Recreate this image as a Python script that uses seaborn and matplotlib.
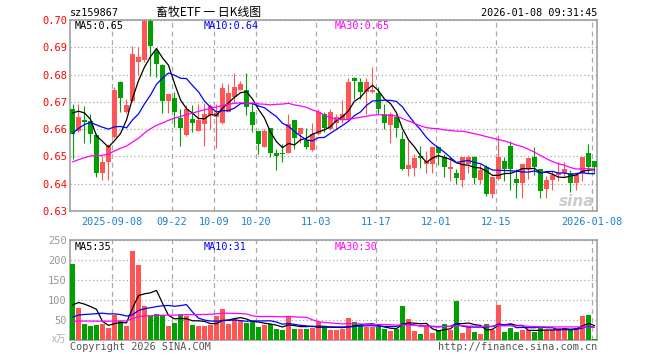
import numpy as np
import pandas as pd
import matplotlib
matplotlib.use("Agg")
import matplotlib.pyplot as plt
import seaborn as sns

# ---------------- data ----------------
tick_idx = [7, 17, 24, 31, 41, 51, 61, 71, 87]
tick_labels = ["2025-09-08", "09-22", "10-09", "10-20", "11-03",
               "11-17", "12-01", "12-15", "2026-01-08"]

open_ = [0.6675, 0.6592, 0.6632, 0.6629, 0.6580, 0.6440, 0.6481, 0.6570, 0.6773, 0.6663,
         0.6702, 0.6846, 0.6853, 0.6997, 0.6887, 0.6835, 0.6702, 0.6714, 0.6642, 0.6577,
         0.6638, 0.6595, 0.6620, 0.6653, 0.6645, 0.6622, 0.6663, 0.6718, 0.6745, 0.6745,
         0.6663, 0.6594, 0.6533, 0.6604, 0.6511, 0.6511, 0.6511, 0.6632, 0.6583, 0.6560,
         0.6524, 0.6583, 0.6656, 0.6601, 0.6622, 0.6632, 0.6632, 0.6786, 0.6773, 0.6736,
         0.6736, 0.6733, 0.6654, 0.6617, 0.6644, 0.6564, 0.6453, 0.6456, 0.6503, 0.6472,
         0.6472, 0.6533, 0.6499, 0.6453, 0.6441, 0.6413, 0.6472, 0.6499, 0.6413, 0.6460,
         0.6361, 0.6417, 0.6482, 0.6540, 0.6419, 0.6401, 0.6453, 0.6499, 0.6453, 0.6380,
         0.6413, 0.6433, 0.6441, 0.6441, 0.6401, 0.6441, 0.6511, 0.6482]
high = [0.6691, 0.6691, 0.6684, 0.6656, 0.6585, 0.6500, 0.6545, 0.6755, 0.6775, 0.6712,
        0.6905, 0.6902, 0.7003, 0.7005, 0.6892, 0.6838, 0.6730, 0.6736, 0.6675, 0.6687,
        0.6687, 0.6691, 0.6696, 0.6691, 0.6691, 0.6770, 0.6767, 0.6807, 0.6775, 0.6805,
        0.6700, 0.6595, 0.6601, 0.6604, 0.6527, 0.6546, 0.6654, 0.6632, 0.6604, 0.6604,
        0.6622, 0.6675, 0.6663, 0.6675, 0.6656, 0.6706, 0.6786, 0.6790, 0.6786, 0.6786,
        0.6826, 0.6755, 0.6691, 0.6663, 0.6656, 0.6595, 0.6555, 0.6509, 0.6539, 0.6521,
        0.6533, 0.6539, 0.6509, 0.6499, 0.6453, 0.6499, 0.6505, 0.6500, 0.6472, 0.6470,
        0.6423, 0.6580, 0.6497, 0.6556, 0.6453, 0.6472, 0.6499, 0.6533, 0.6453, 0.6429,
        0.6445, 0.6478, 0.6478, 0.6450, 0.6441, 0.6499, 0.6546, 0.6482]
low = [0.6490, 0.6589, 0.6548, 0.6548, 0.6425, 0.6413, 0.6413, 0.6568, 0.6663, 0.6660,
       0.6700, 0.6800, 0.6845, 0.6794, 0.6792, 0.6660, 0.6660, 0.6607, 0.6540, 0.6575,
       0.6589, 0.6595, 0.6540, 0.6600, 0.6531, 0.6620, 0.6663, 0.6696, 0.6742, 0.6650,
       0.6589, 0.6509, 0.6533, 0.6499, 0.6450, 0.6478, 0.6511, 0.6527, 0.6548, 0.6527,
       0.6521, 0.6577, 0.6589, 0.6598, 0.6600, 0.6622, 0.6632, 0.6712, 0.6712, 0.6654,
       0.6733, 0.6656, 0.6600, 0.6548, 0.6570, 0.6450, 0.6429, 0.6429, 0.6456, 0.6441,
       0.6438, 0.6469, 0.6425, 0.6410, 0.6398, 0.6388, 0.6440, 0.6400, 0.6398, 0.6355,
       0.6349, 0.6415, 0.6410, 0.6376, 0.6349, 0.6349, 0.6417, 0.6433, 0.6349, 0.6349,
       0.6376, 0.6410, 0.6425, 0.6371, 0.6376, 0.6410, 0.6441, 0.6441]
close = [0.6583, 0.6644, 0.6628, 0.6583, 0.6440, 0.6481, 0.6539, 0.6745, 0.6714, 0.6689,
         0.6875, 0.6863, 0.6997, 0.6905, 0.6838, 0.6702, 0.6730, 0.6663, 0.6604, 0.6675,
         0.6622, 0.6632, 0.6656, 0.6683, 0.6660, 0.6752, 0.6733, 0.6755, 0.6767, 0.6680,
         0.6617, 0.6545, 0.6594, 0.6511, 0.6503, 0.6509, 0.6620, 0.6568, 0.6604, 0.6533,
         0.6583, 0.6663, 0.6604, 0.6663, 0.6644, 0.6654, 0.6773, 0.6777, 0.6736, 0.6773,
         0.6745, 0.6675, 0.6622, 0.6654, 0.6604, 0.6453, 0.6469, 0.6494, 0.6494, 0.6482,
         0.6533, 0.6511, 0.6460, 0.6460, 0.6420, 0.6499, 0.6499, 0.6420, 0.6450, 0.6361,
         0.6423, 0.6499, 0.6453, 0.6453, 0.6401, 0.6472, 0.6494, 0.6460, 0.6374, 0.6413,
         0.6433, 0.6441, 0.6453, 0.6401, 0.6433, 0.6499, 0.6462, 0.6460]
volume = [190, 81, 40, 35, 37.5, 40, 30, 62.5, 47.5, 35,
          222.5, 187.5, 85, 60, 65, 62.5, 35, 42.5, 65, 60,
          37.5, 35, 35, 37.5, 60, 77.5, 40, 52.5, 50, 42.5,
          47.5, 32.5, 37.5, 40, 27.5, 25, 60, 27.5, 27.5, 27.5,
          30, 45, 32.5, 25, 25, 27.5, 55, 45, 37.5, 32.5,
          32.5, 32.5, 27.5, 22.5, 27.5, 85, 52.5, 22.5, 15, 32.5,
          17.5, 25, 40, 25, 97.5, 17.5, 32.5, 20, 15, 40,
          25, 87.5, 20, 30, 20, 25, 25, 20, 30, 25,
          25, 30, 30, 25, 30, 60, 62.5, 2.5]
# sessions before the window, estimated from where the moving averages start
prior_close = [0.640, 0.641, 0.639, 0.642, 0.643, 0.641, 0.640, 0.642, 0.644, 0.645,
               0.643, 0.642, 0.644, 0.646, 0.645, 0.643, 0.642, 0.644, 0.645, 0.645,
               0.646, 0.648, 0.651, 0.653, 0.6565, 0.661, 0.666, 0.670, 0.6742]
prior_vol = [35, 42, 38, 45, 40, 36, 44, 39, 41, 47, 38, 42, 40, 37, 43, 39, 41, 44, 40, 39,
             28, 25, 27, 24, 28.5, 50, 60, 65, 72.5]
price_ma_text = ["MA5:0.65", "MA10:0.64", "MA30:0.65"]
vol_ma_text = ["MA5:35", "MA10:31", "MA30:30"]

# ---------------- styling ----------------
RED = "#ff5555"
GREEN = "#00a000"
GRID = "#aaaaaa"
SPINE = "#999999"
W, H = 660, 360

sns.set_theme(style="white")
plt.rcParams['font.family'] = ['DejaVu Sans Mono', 'Noto Sans CJK SC']

fig = plt.figure(figsize=(6.6, 3.6), dpi=100)
fig.patch.set_facecolor("white")

def px_rect(l, t, r, b):
    return [l / W, 1 - b / H, (r - l) / W, (b - t) / H]

ax = fig.add_axes(px_rect(70, 20, 597, 211))
ax2 = fig.add_axes(px_rect(70, 240, 597, 340))

n = len(close)
idx = np.arange(n)
o = np.array(open_); c = np.array(close); hi = np.array(high); lo = np.array(low)
v = np.array(volume, dtype=float)
up = c >= o
cols = np.where(up, RED, GREEN)

def ma(prior, vals, k):
    s = pd.Series(list(prior) + list(vals), dtype=float).rolling(k).mean()
    return s.values[len(prior):]

# ---------- price panel ----------
ax.vlines(idx, lo, hi, colors=cols, lw=0.8, zorder=3)
ax.bar(idx, np.maximum(np.abs(c - o), 0.00012), bottom=np.minimum(o, c),
       width=0.83, color=cols, linewidth=0, zorder=3)
for k, colr in [(5, "black"), (10, "#0000ff"), (30, "#ff00ff")]:
    sns.lineplot(x=idx, y=ma(prior_close, close, k), color=colr, lw=0.9, ax=ax, zorder=4)

ax.set_ylim(0.63, 0.70)
ax.set_yticks(np.round(np.arange(0.63, 0.7001, 0.01), 2))
ax.set_yticklabels([f"{t:.2f}" for t in np.arange(0.63, 0.7001, 0.01)])

# ---------- volume panel ----------
vdf = pd.DataFrame({"i": idx, "vol": v, "dir": np.where(up, "up", "down")})
sns.barplot(data=vdf, x="i", y="vol", hue="dir", palette={"up": RED, "down": GREEN},
            dodge=False, native_scale=True, width=0.83, errorbar=None, legend=False,
            saturation=1, linewidth=0, ax=ax2, zorder=3)
for k, colr in [(5, "black"), (10, "#0000ff"), (30, "#ff00ff")]:
    sns.lineplot(x=idx, y=ma(prior_vol, volume, k), color=colr, lw=0.9, ax=ax2, zorder=4)
ax2.set_ylim(0, 250)
ax2.set_yticks([50, 100, 150, 200, 250])
ax2.set_yticklabels(["50", "100", "150", "200", "250"])

for a in (ax, ax2):
    a.set_xlim(-0.4167, 87.42)
    a.set_xticks([t - 0.42 for t in tick_idx])
    a.set_xlabel(""); a.set_ylabel("")
    a.grid(False)
    a.yaxis.grid(True, linestyle=(0, (1, 2)), color=GRID, lw=0.9)
    a.xaxis.grid(True, linestyle=(0, (4, 3)), color=GRID, lw=0.9)
    a.set_axisbelow(True)
    for s in a.spines.values():
        s.set_color(SPINE); s.set_linewidth(1.1)
    a.tick_params(length=0)

ax.set_xticklabels(tick_labels)
ax.tick_params(axis="x", colors="#1a80d0", labelsize=7.3, pad=4)
ax.tick_params(axis="y", colors="red", labelsize=7.5, pad=2.2)
ax2.set_xticklabels([])
ax2.tick_params(axis="y", colors="#999999", labelsize=7.5, pad=2.2)

# ---------- texts ----------
def t(x, y, s, **kw):
    kw.setdefault("fontsize", 7.3)
    kw.setdefault("va", "center")
    fig.text(x / W, 1 - y / H, s, **kw)

t(70, 13, "sz159867", color="black")
t(209, 12.5, "畜牧ETF 一 日K线图", ha="center", fontsize=8.6,
  family=["Noto Sans CJK SC", "DejaVu Sans"], color="black")
t(597, 12.5, "2026-01-08 09:31:45", ha="right", color="black")

ma_cols = ["black", "#0000ff", "#ff00ff"]
for xs, s, cc in zip([75, 204, 335], price_ma_text, ma_cols):
    t(xs, 26, s, color=cc)
for xs, s, cc in zip([75, 204, 335], vol_ma_text, ma_cols):
    t(xs, 246.5, s, color=cc)

t(66, 339, "x万", ha="right", color="#b0b0b0", fontsize=7,
  family=["Noto Sans CJK SC", "DejaVu Sans"])
t(70, 346.5, "Copyright 2026 SINA.COM", color="#555555")
t(597, 346.5, "http://finance.sina.com.cn", ha="right", color="#555555")
t(594, 201, "sina", ha="right", color="#cccccc", fontsize=11, style="italic",
  weight="bold", family=["DejaVu Sans"])

fig.savefig("out.png", dpi=100, facecolor="white")
